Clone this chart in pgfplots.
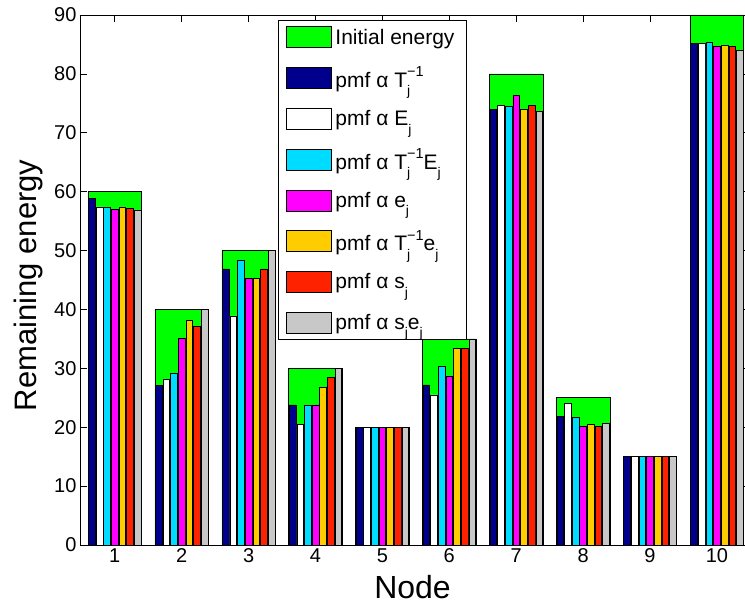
\documentclass[border=0pt]{standalone}
\usepackage{fontspec}
\setmainfont{Liberation Sans}
\usepackage{pgfplots}
\pgfplotsset{compat=1.18}
\definecolor{cgreen}{RGB}{0,255,0}
\definecolor{cnavy}{RGB}{0,0,140}
\definecolor{ccyan}{RGB}{0,220,255}
\definecolor{cmag}{RGB}{255,0,255}
\definecolor{cyel}{RGB}{255,204,0}
\definecolor{cred}{RGB}{255,34,0}
\definecolor{cgray}{RGB}{200,200,200}
\newcommand{\sj}{\raisebox{-8.5pt}{\fontsize{14}{14}\selectfont j}}
\newcommand{\supm}{\raisebox{10.5pt}{\fontsize{14.5}{14}\selectfont −1}}
\newcommand{\Tinv}{T\rlap{\sj}\supm}
\pgfplotsset{myleg/.style={legend image code/.code={\draw[##1, line width=0.6pt] (0pt,-10.5pt) rectangle (45pt,10.5pt);}}}
\begin{document}
\begin{tikzpicture}
\begin{axis}[
  scale only axis, width=665pt, height=530pt,
  xmin=0.48, xmax=10.42, ymin=0, ymax=90,
  xtick={1,...,10}, ytick={0,10,...,90},
  tick align=inside, major tick length=7pt,
  tick style={black, line width=0.6pt},
  axis line style={line width=0.8pt},
  tick label style={font=\fontsize{20}{20}\selectfont},
  /pgf/number format/assume math mode=true,
  xlabel={Node}, ylabel={Remaining energy},
  label style={font=\fontsize{32}{32}\selectfont},
  xlabel style={at={(axis description cs:0.5,-0.1019)}, anchor=base},
  ylabel style={at={(axis description cs:-0.0647,0.49)}, anchor=base, font=\fontsize{31}{31}\selectfont},
  legend cell align=left,
  legend style={at={(axis description cs:0.2977,0.9906)}, anchor=north west,
    draw=black, line width=0.8pt, fill=white, font=\fontsize{21}{24}\selectfont,
    inner xsep=8pt, inner ysep=6pt, row sep=19pt,
    nodes={inner xsep=3.5pt, inner ysep=0pt}},
]
\addplot[ybar, bar width=0.8, bar shift=0, fill=cgreen, draw=black, line width=0.6pt, myleg]
  coordinates {(1,60) (2,40) (3,50) (4,30) (5,20) (6,35) (7,80) (8,25) (9,15) (10,90)};
\addlegendentry{Initial energy}
\addplot[ybar, bar width=0.1, bar shift=-0.3429, fill=cnavy, draw=black, line width=0.6pt, myleg]
  coordinates {(1,58.8) (2,27.1) (3,46.9) (4,23.8) (5,20) (6,27.2) (7,74.0) (8,21.9) (9,15) (10,85.2)};
\addlegendentry{pmf α \Tinv}
\addplot[ybar, bar width=0.1, bar shift=-0.2286, fill=white, draw=black, line width=0.6pt, myleg]
  coordinates {(1,57.4) (2,28.1) (3,38.9) (4,20.5) (5,20) (6,25.5) (7,74.7) (8,24.1) (9,15) (10,85.2)};
\addlegendentry{pmf α E\sj}
\addplot[ybar, bar width=0.1, bar shift=-0.1143, fill=ccyan, draw=black, line width=0.6pt, myleg]
  coordinates {(1,57.4) (2,29.1) (3,48.4) (4,23.8) (5,20) (6,30.3) (7,74.5) (8,21.7) (9,15) (10,85.4)};
\addlegendentry{pmf α \Tinv E\sj}
\addplot[ybar, bar width=0.1, bar shift=0, fill=cmag, draw=black, line width=0.6pt, myleg]
  coordinates {(1,57.0) (2,35.1) (3,45.3) (4,23.8) (5,20) (6,28.6) (7,76.4) (8,20.2) (9,15) (10,84.6)};
\addlegendentry{pmf α e\sj}
\addplot[ybar, bar width=0.1, bar shift=0.1143, fill=cyel, draw=black, line width=0.6pt, myleg]
  coordinates {(1,57.4) (2,38.1) (3,45.3) (4,26.8) (5,20) (6,33.4) (7,74.0) (8,20.5) (9,15) (10,84.8)};
\addlegendentry{pmf α \Tinv e\sj}
\addplot[ybar, bar width=0.1, bar shift=0.2286, fill=cred, draw=black, line width=0.6pt, myleg]
  coordinates {(1,57.2) (2,37.1) (3,46.9) (4,28.4) (5,20) (6,33.4) (7,74.6) (8,20.1) (9,15) (10,84.6)};
\addlegendentry{pmf α s\sj}
\addplot[ybar, bar width=0.1, bar shift=0.3429, fill=cgray, draw=black, line width=0.6pt, myleg]
  coordinates {(1,56.9) (2,40.0) (3,50.0) (4,30.0) (5,20) (6,35.0) (7,73.6) (8,20.7) (9,15) (10,84.0)};
\addlegendentry{pmf α s\sj e\sj}
\coordinate (BL) at (rel axis cs:0,0);
\coordinate (TR) at (rel axis cs:1,1);
\end{axis}
\pgfresetboundingbox
\useasboundingbox ([xshift=-80pt,yshift=-61pt]BL) rectangle ([yshift=15pt]TR);
\end{tikzpicture}
\end{document}
